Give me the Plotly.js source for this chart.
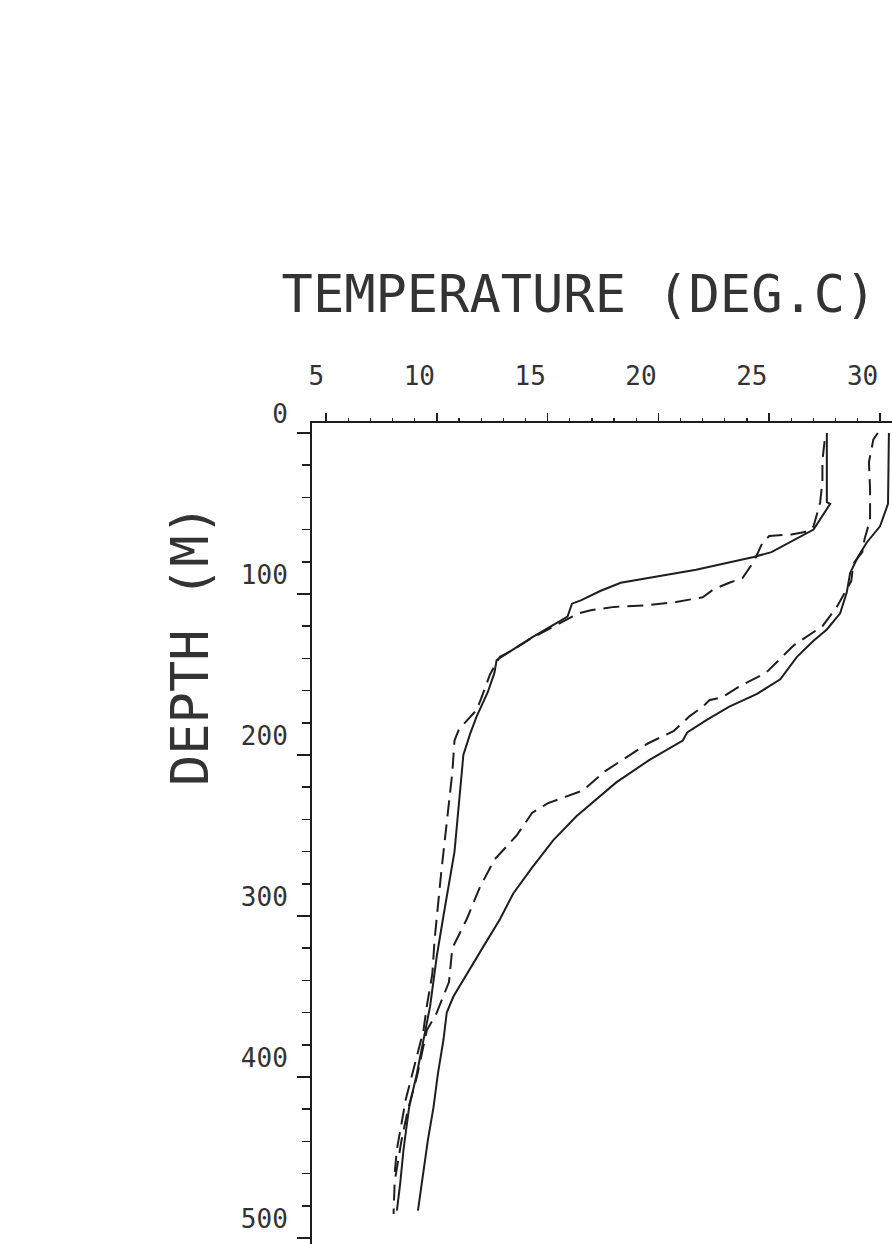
<!DOCTYPE html>
<html>
<head>
<meta charset="utf-8">
<script src="https://cdn.plot.ly/plotly-3.0.1.min.js"></script>
<style>
  html, body { margin: 0; padding: 0; background: #ffffff; }
  #chart { width: 892px; height: 1244px; }
</style>
</head>
<body>
<div id="chart"></div>
<script>
// ---- Data ----
// Profile A: solid, left pair
const depthA = [0, 43, 44, 60, 74, 77, 85, 93, 98, 104, 106, 114, 127, 136, 141, 149, 161, 176, 187, 200, 230, 260, 300, 325, 356, 373, 398, 419, 445, 466, 483];
const tempA  = [27.6, 27.6, 27.75, 27.0, 25.1, 24.3, 21.7, 18.3, 17.4, 16.5, 16.1, 15.9, 14.3, 13.3, 12.7, 12.6, 12.3, 11.8, 11.5, 11.2, 11.0, 10.8, 10.3, 10.0, 9.7, 9.45, 9.1, 8.75, 8.5, 8.35, 8.2];

// Profile B: dashed, left pair
const depthB = [5, 17, 30, 43, 58, 61, 63, 64, 68, 80, 90, 93, 97, 102, 105, 107, 108, 110, 112, 115, 128, 135, 139, 145, 150, 165, 172, 184, 191, 211, 242, 273, 315, 336, 356, 371, 414, 433, 445, 460];
const tempB  = [27.5, 27.4, 27.4, 27.3, 27.0, 26.8, 26.0, 25.0, 24.7, 24.3, 23.8, 23.2, 22.5, 22.0, 20.8, 19.5, 18.0, 17.0, 16.4, 16.0, 14.2, 13.4, 12.85, 12.6, 12.4, 12.0, 11.8, 11.0, 10.8, 10.7, 10.45, 10.2, 9.9, 9.8, 9.55, 9.4, 8.6, 8.35, 8.2, 8.1];

// Profile C: solid, right pair
const depthC = [0, 44, 58, 68, 77, 87, 99, 112, 122, 129, 139, 153, 162, 170, 178, 186, 191, 203, 217, 238, 253, 270, 286, 302, 319, 336, 350, 360, 377, 398, 419, 439, 460, 483];
const tempC  = [30.4, 30.36, 30.0, 29.4, 29.0, 28.65, 28.5, 28.2, 27.6, 27.0, 26.25, 25.5, 24.45, 23.2, 22.2, 21.3, 21.1, 19.6, 18.1, 16.3, 15.25, 14.3, 13.45, 12.85, 12.1, 11.35, 10.75, 10.45, 10.3, 10.05, 9.85, 9.6, 9.4, 9.15];

// Profile D: dashed, right pair
const depthD = [0, 4, 18, 35, 54, 66, 74, 81, 92, 108, 120, 132, 149, 157, 164, 166, 170, 176, 185, 193, 210, 222, 226, 230, 236, 250, 265, 282, 302, 320, 341, 360, 371, 400, 420, 440, 465, 485];
const tempD  = [29.9, 29.7, 29.5, 29.55, 29.55, 29.3, 29.2, 28.8, 28.7, 28.05, 27.4, 26.1, 24.85, 23.7, 22.9, 22.3, 22.0, 21.4, 20.7, 19.5, 17.6, 16.6, 15.8, 15.0, 14.3, 13.6, 12.6, 11.95, 11.35, 10.7, 10.55, 10.0, 9.55, 9.1, 8.7, 8.4, 8.1, 8.05];

// Axis ticks and labels
const tempTicks  = [5, 10, 15, 20, 25, 30];
const tempLabels = ['5', '10', '15', '20', '25', '30'];
const depthTicks  = [0, 100, 200, 300, 400, 500];
const depthLabels = ['0', '100', '200', '300', '400', '500'];

const xTitle = 'TEMPERATURE (DEG.C)';
const yTitle = 'DEPTH (M)';

// ---- Styling ----
const ink = '#1e1e1e';
const fontFam = '"DejaVu Sans Mono", monospace';
const dashPattern = '16px,8px';

function profile(t, d, dashed) {
  return {
    x: t, y: d, type: 'scatter', mode: 'lines',
    line: { color: ink, width: 2, dash: dashed ? dashPattern : 'solid' },
    hoverinfo: 'skip', showlegend: false
  };
}

const traces = [
  profile(tempA, depthA, false),
  profile(tempB, depthB, true),
  profile(tempC, depthC, false),
  profile(tempD, depthD, true)
];

const layout = {
  width: 892, height: 1244,
  margin: { l: 312, r: 0, t: 423, b: 0, pad: 0 },
  paper_bgcolor: '#ffffff', plot_bgcolor: '#ffffff',
  showlegend: false,
  title: {
    text: xTitle,
    font: { family: fontFam, size: 52, color: '#333333' },
    x: 579 / 892, xanchor: 'center', xref: 'container',
    y: 1 - 294 / 1244, yanchor: 'middle', yref: 'container'
  },
  xaxis: {
    side: 'top',
    range: [4.37, 30.54],
    tickmode: 'array', tickvals: tempTicks, ticktext: tempLabels,
    ticks: 'outside', ticklen: 8, tickwidth: 1.5, tickcolor: ink,
    ticklabelposition: 'outside left',
    ticklabelstandoff: 26,
    tickfont: { family: fontFam, size: 26, color: '#333333' },
    minor: { tickmode: 'linear', tick0: 0, dtick: 1, ticks: 'outside', ticklen: 3, tickwidth: 1.2, tickcolor: ink, showgrid: false },
    showline: true, linecolor: ink, linewidth: 2,
    showgrid: false, zeroline: false, fixedrange: true
  },
  yaxis: {
    range: [503.7, -6.2],
    tickmode: 'array', tickvals: depthTicks, ticktext: depthLabels,
    ticks: 'outside', ticklen: 13, tickwidth: 1.5, tickcolor: ink,
    ticklabelposition: 'outside top',
    ticklabelstandoff: 17,
    tickfont: { family: fontFam, size: 26, color: '#333333' },
    minor: { tickmode: 'linear', tick0: 0, dtick: 20, ticks: 'outside', ticklen: 8, tickwidth: 1.5, tickcolor: ink, showgrid: false },
    showline: true, linecolor: ink, linewidth: 2,
    showgrid: false, zeroline: false, fixedrange: true
  },
  annotations: [{
    text: yTitle,
    xref: 'paper', yref: 'paper',
    x: (190 - 312) / 580, y: (1244 - 645) / 821,
    xanchor: 'center', yanchor: 'middle',
    textangle: -90, showarrow: false,
    font: { family: fontFam, size: 52, color: '#333333' }
  }]
};

Plotly.newPlot('chart', traces, layout, { displayModeBar: false, staticPlot: true });
</script>
</body>
</html>
